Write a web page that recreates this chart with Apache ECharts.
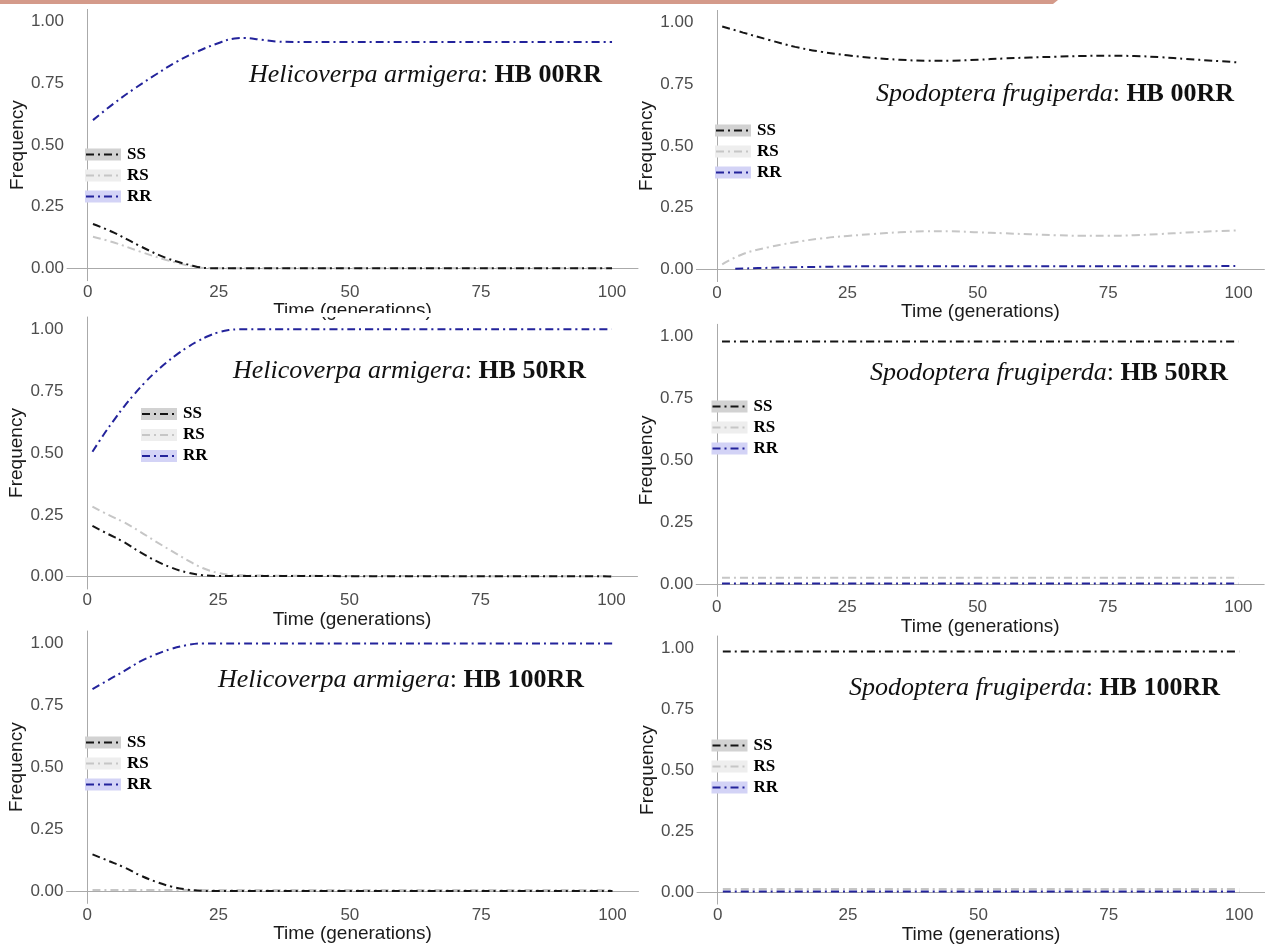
<!DOCTYPE html>
<html>
<head>
<meta charset="utf-8">
<script src="https://cdn.jsdelivr.net/npm/echarts@6/dist/echarts.min.js"></script>
<style>
html,body{margin:0;padding:0;background:#fff;}
#chart{width:1265px;height:945px;}
</style>
</head>
<body>
<div id="chart"></div>
<script>
// ---------- tick labels ----------
const xTicks = [0, 25, 50, 75, 100];
const yTicks = [0, 0.25, 0.5, 0.75, 1];
const genotypes = ['SS', 'RS', 'RR'];

// ---------- Panel 1: Helicoverpa armigera HB 00RR ----------
const ha00_rr_x = [1, 5, 9, 13, 17, 21, 25, 28, 30, 33, 36, 40, 50, 75, 100];
const ha00_rr_y = [0.601, 0.669, 0.730, 0.786, 0.838, 0.880, 0.914, 0.932, 0.934, 0.927, 0.920, 0.918, 0.918, 0.918, 0.918];
const ha00_s_x  = [1, 5, 10, 15, 20, 23, 30, 50, 75, 100];
const ha00_ss_y = [0.180, 0.145, 0.090, 0.042, 0.011, 0.001, 0, 0, 0, 0];
const ha00_rs_y = [0.128, 0.105, 0.068, 0.034, 0.008, 0.001, 0, 0, 0, 0];

// ---------- Panel 2: Spodoptera frugiperda HB 00RR ----------
const sf00_x    = [1, 5, 10, 15, 20, 25, 30, 35, 40, 45, 50, 55, 60, 65, 70, 75, 80, 85, 90, 95, 100];
const sf00_ss_y = [0.985, 0.960, 0.930, 0.902, 0.882, 0.868, 0.857, 0.850, 0.846, 0.846, 0.850, 0.855, 0.859, 0.862, 0.865, 0.866, 0.865, 0.860, 0.853, 0.846, 0.839];
const sf00_rs_y = [0.020, 0.062, 0.090, 0.110, 0.125, 0.135, 0.143, 0.150, 0.154, 0.154, 0.150, 0.146, 0.142, 0.138, 0.136, 0.136, 0.138, 0.143, 0.149, 0.154, 0.158];
const sf00_rr_x = [3.5, 10, 20, 30, 50, 75, 100];
const sf00_rr_y = [0.002, 0.006, 0.010, 0.012, 0.012, 0.012, 0.013];

// ---------- Panel 3: Helicoverpa armigera HB 50RR ----------
const ha50_rr_x = [1, 3, 5, 7, 9, 11, 13, 15, 17, 19, 21, 23, 25, 27, 29, 40, 60, 80, 100];
const ha50_rr_y = [0.505, 0.570, 0.630, 0.687, 0.738, 0.785, 0.827, 0.864, 0.897, 0.926, 0.951, 0.972, 0.988, 0.997, 1.0, 1.0, 1.0, 1.0, 1.0];
const ha50_s_x  = [1, 4, 7, 10, 13, 16, 19, 22, 25, 28, 35, 50, 75, 100];
const ha50_ss_y = [0.205, 0.172, 0.140, 0.100, 0.065, 0.037, 0.017, 0.006, 0.003, 0.003, 0.003, 0.002, 0.002, 0.001];
const ha50_rs_y = [0.283, 0.250, 0.220, 0.183, 0.143, 0.105, 0.068, 0.035, 0.015, 0.007, 0.004, 0.003, 0.002, 0.002];

// ---------- Panel 4: Spodoptera frugiperda HB 50RR ----------
const sf50_x    = [1, 25, 50, 75, 100];
const sf50_ss_y = [0.980, 0.980, 0.980, 0.980, 0.980];
const sf50_rs_y = [0.025, 0.025, 0.025, 0.025, 0.025];
const sf50_rr_y = [0.002, 0.002, 0.002, 0.002, 0.002];

// ---------- Panel 5: Helicoverpa armigera HB 100RR ----------
const ha100_x    = [1, 4, 7, 10, 13, 16, 19, 22, 25, 50, 75, 100];
const ha100_rr_y = [0.815, 0.852, 0.888, 0.926, 0.955, 0.978, 0.993, 1.0, 1.0, 1.0, 1.0, 1.0];
const ha100_ss_y = [0.148, 0.122, 0.096, 0.064, 0.038, 0.018, 0.006, 0.001, 0, 0, 0, 0];
const ha100_rs_x = [1, 25, 50, 75, 100];
const ha100_rs_y = [0.004, 0.004, 0.004, 0.004, 0.004];

// ---------- Panel 6: Spodoptera frugiperda HB 100RR ----------
const sf100_x    = [1, 25, 50, 75, 100];
const sf100_ss_y = [0.986, 0.986, 0.986, 0.986, 0.986];
const sf100_rs_y = [0.012, 0.012, 0.012, 0.012, 0.012];
const sf100_rr_y = [0.002, 0.002, 0.002, 0.002, 0.002];

// ---------- annotations ----------
const speciesNames = ['Helicoverpa armigera', 'Spodoptera frugiperda', 'Helicoverpa armigera', 'Spodoptera frugiperda', 'Helicoverpa armigera', 'Spodoptera frugiperda'];
const treatments = ['HB 00RR', 'HB 00RR', 'HB 50RR', 'HB 50RR', 'HB 100RR', 'HB 100RR'];

// ---------- styles / layout ----------
const lineColors = { SS: '#151515', RS: '#c6c6c6', RR: '#23239b' };
const bandColors = { SS: '#d2d2d2', RS: '#eeeeee', RR: '#d3d3f6' };
const zOrder = { SS: 3, RS: 2, RR: 4 };
const dash = [8, 4, 2, 4];

const pair = (xs, ys) => xs.map((x, i) => [x, ys[i]]);

const panels = [
  { grid: { left: 67, top: 9.4, width: 571, height: 271.3 },
    title: { right: 663, top: 62 }, legend: { left: 85, top: 146 },
    series: { SS: pair(ha00_s_x, ha00_ss_y), RS: pair(ha00_s_x, ha00_rs_y), RR: pair(ha00_rr_x, ha00_rr_y) } },
  { grid: { left: 696.4, top: 10.4, width: 568, height: 271.2 },
    title: { right: 31, top: 81 }, legend: { left: 715, top: 122 },
    series: { SS: pair(sf00_x, sf00_ss_y), RS: pair(sf00_x, sf00_rs_y), RR: pair(sf00_rr_x, sf00_rr_y) } },
  { grid: { left: 66.5, top: 317, width: 571, height: 272 },
    title: { right: 679, top: 358 }, legend: { left: 141, top: 405.5 },
    series: { SS: pair(ha50_s_x, ha50_ss_y), RS: pair(ha50_s_x, ha50_rs_y), RR: pair(ha50_rr_x, ha50_rr_y) } },
  { grid: { left: 696.2, top: 324.3, width: 568, height: 272 },
    title: { right: 37, top: 360 }, legend: { left: 711.5, top: 398 },
    series: { SS: pair(sf50_x, sf50_ss_y), RS: pair(sf50_x, sf50_rs_y), RR: pair(sf50_x, sf50_rr_y) } },
  { grid: { left: 66.5, top: 631, width: 572, height: 272.4 },
    title: { right: 681, top: 667 }, legend: { left: 85, top: 734 },
    series: { SS: pair(ha100_x, ha100_ss_y), RS: pair(ha100_rs_x, ha100_rs_y), RR: pair(ha100_x, ha100_rr_y) } },
  { grid: { left: 697, top: 636, width: 568, height: 271.3 },
    title: { right: 45, top: 675 }, legend: { left: 711.5, top: 737 },
    series: { SS: pair(sf100_x, sf100_ss_y), RS: pair(sf100_x, sf100_rs_y), RR: pair(sf100_x, sf100_rr_y) } }
];

const axisGray = '#aaaaaa';
const option = {
  backgroundColor: '#ffffff',
  animation: false,
  grid: [], xAxis: [], yAxis: [], series: [], title: [], legend: [],
  graphic: [
    { type: 'polygon', shape: { points: [[0, 0], [1058, 0], [1053, 4], [0, 4]] }, style: { fill: '#d49a8a' }, z: 100 },
    { type: 'rect', shape: { x: 250, y: 313, width: 220, height: 4 }, style: { fill: '#ffffff' }, z: 100 }
  ]
};

panels.forEach((p, i) => {
  option.grid.push(Object.assign({ containLabel: false }, p.grid));
  option.xAxis.push({
    type: 'value', gridIndex: i, min: -3.95, max: 104.95,
    name: 'Time (generations)', nameLocation: 'middle', nameGap: 15,
    nameTextStyle: { fontFamily: 'Liberation Sans', fontSize: 19, color: '#1a1a1a' },
    axisLine: { show: true, lineStyle: { color: axisGray, width: 1 } },
    axisTick: { show: false },
    splitLine: { show: false },
    axisLabel: { customValues: xTicks, fontFamily: 'Liberation Sans', fontSize: 17, color: '#4d4d4d', margin: 3 }
  });
  option.yAxis.push({
    type: 'value', gridIndex: i, min: -0.05, max: 1.05,
    name: 'Frequency', nameLocation: 'middle', nameGap: 35, nameRotate: 90,
    nameTextStyle: { fontFamily: 'Liberation Sans', fontSize: 19, color: '#1a1a1a' },
    axisLine: { show: true, lineStyle: { color: axisGray, width: 1 } },
    axisTick: { show: false },
    splitLine: { show: false },
    axisLabel: { customValues: yTicks, formatter: v => v.toFixed(2), fontFamily: 'Liberation Sans', fontSize: 17, color: '#4d4d4d', margin: 3 }
  });
  genotypes.forEach(g => {
    option.series.push({
      type: 'line', name: g, xAxisIndex: i, yAxisIndex: i,
      data: p.series[g], smooth: 0.4, symbol: 'none',
      z: zOrder[g],
      itemStyle: { color: lineColors[g] },
      lineStyle: { color: lineColors[g], width: 2, type: dash }
    });
  });
  option.title.push({
    text: '{i|' + speciesNames[i] + '}{r|: }{b|' + treatments[i] + '}',
    right: p.title.right, top: p.title.top, padding: 0,
    textStyle: {
      fontWeight: 'normal',
      rich: {
        i: { fontFamily: 'Liberation Serif', fontStyle: 'italic', fontWeight: 'normal', fontSize: 26, color: '#111' },
        r: { fontFamily: 'Liberation Serif', fontWeight: 'normal', fontSize: 26, color: '#111' },
        b: { fontFamily: 'Liberation Serif', fontWeight: 'bold', fontSize: 26, color: '#111' }
      }
    }
  });
  const legendBase = {
    orient: 'vertical', left: p.legend.left, top: p.legend.top, padding: 0,
    itemWidth: 36, itemHeight: 12, itemGap: 4, selectedMode: false
  };
  option.legend.push(Object.assign({}, legendBase, {
    z: 5,
    icon: 'rect',
    data: genotypes.map(g => ({ name: g, itemStyle: { color: bandColors[g] } })),
    textStyle: { fontFamily: 'Liberation Serif', fontWeight: 'bold', fontSize: 17, lineHeight: 16, color: 'rgba(0,0,0,0)' }
  }));
  option.legend.push(Object.assign({}, legendBase, {
    z: 6,
    itemStyle: { color: 'rgba(0,0,0,0)', borderColor: 'rgba(0,0,0,0)', opacity: 0 },
    data: genotypes.map(g => ({ name: g })),
    textStyle: { fontFamily: 'Liberation Serif', fontWeight: 'bold', fontSize: 17, lineHeight: 16, color: '#000' }
  }));
});

const chart = echarts.init(document.getElementById('chart'), null, { renderer: 'canvas' });
chart.setOption(option);
</script>
</body>
</html>
